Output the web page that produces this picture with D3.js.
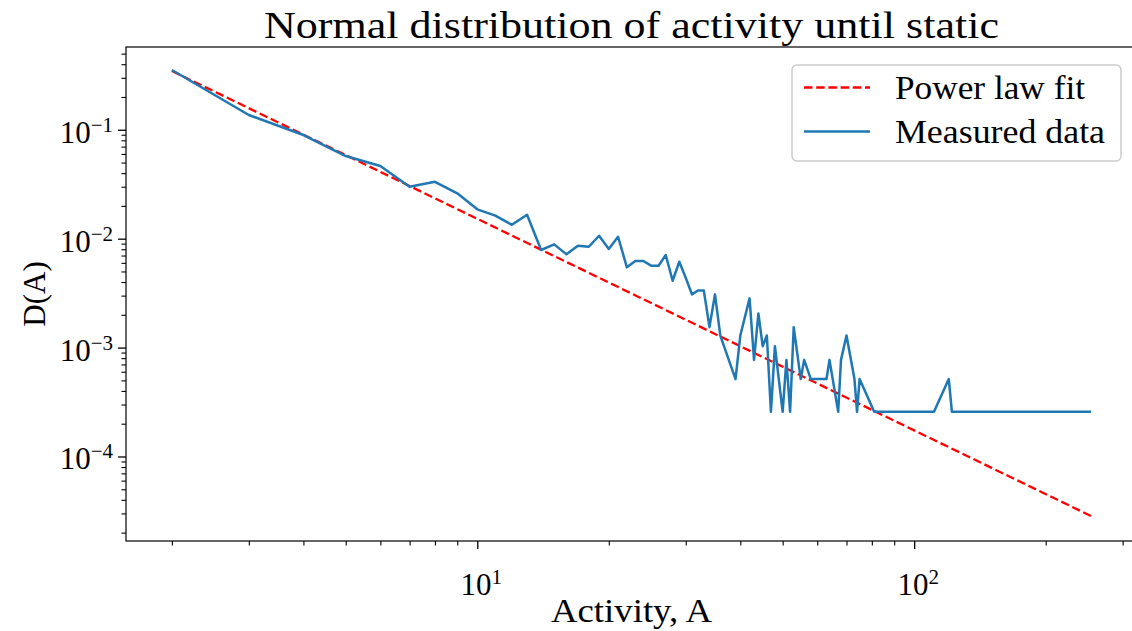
<!DOCTYPE html>
<html>
<head>
<meta charset="utf-8">
<script src="https://cdn.jsdelivr.net/npm/d3@7/dist/d3.min.js"></script>
<style>
  body { margin: 0; background: #fff; }
  svg { display: block; font-family: "Liberation Serif", "DejaVu Serif", serif; }
</style>
</head>
<body>
<svg id="chart" width="1132" height="631"></svg>
<script>
// measured distribution, activity A against D(A) (zero counts are simply not there)
var activity = [2, 3, 4, 5, 6, 7, 8, 9, 10, 11, 12, 13, 14, 15, 16, 17, 18, 19, 20, 21,
  22, 23, 24, 25, 26, 27, 28, 29, 30, 31, 32, 33, 34, 35, 36, 39, 40, 42, 43, 44,
  45, 46, 47, 48, 50, 51, 52, 53, 55, 56, 58, 63, 64, 67, 68, 70, 73, 74, 75, 81,
  111, 120, 122, 254];
var density = [0.354, 0.1367, 0.0895, 0.0574, 0.0465, 0.0300, 0.0333, 0.0261, 0.0186, 0.0163,
  0.0134, 0.0166, 0.00787, 0.00887, 0.00718, 0.00861, 0.00843, 0.01064, 0.00803, 0.01042,
  0.00546, 0.00624, 0.00624, 0.00565, 0.00565, 0.00708, 0.00411, 0.00614, 0.00438, 0.00308,
  0.00334, 0.00334, 0.00154, 0.00308, 0.00129, 0.000514, 0.00129, 0.00283, 0.000771, 0.00206,
  0.00103, 0.00129, 0.000257, 0.00103, 0.000257, 0.000771, 0.000257, 0.00154, 0.000514, 0.000771,
  0.000514, 0.000514, 0.000771, 0.000257, 0.000771, 0.00129, 0.000514, 0.000257, 0.000514, 0.000257,
  0.000257, 0.000514, 0.000257, 0.000257];

// power law fit, straight in log-log so the two ends are enough
var fitActivity = [2, 254];
var fitDensity = [0.347, 2.84e-5];

var xTickExps = [1, 2];
var yTickExps = [-1, -2, -3, -4];
var legendLabels = ["Power law fit", "Measured data"];
var titleText = "Normal distribution of activity until static";

var plotLeft = 126, plotRight = 1137, plotTop = 47, plotBottom = 541;

var svg = d3.select("#chart");

var x = d3.scaleLog().domain([Math.pow(10, 0.196), Math.pow(10, 2.510)]).range([plotLeft, plotRight]);
var y = d3.scaleLog().domain([Math.pow(10, -4.776), Math.pow(10, -0.240)]).range([plotBottom, plotTop]);

// minor ticks 2..9 of each decade inside the domain
function minorTicks(scale) {
  var d = scale.domain(), out = [];
  for (var e = Math.floor(Math.log10(d[0])); e <= Math.ceil(Math.log10(d[1])); e++) {
    for (var k = 2; k <= 9; k++) {
      var v = k * Math.pow(10, e);
      if (v >= d[0] && v <= d[1]) out.push(v);
    }
  }
  return out;
}

function styleTicks(w) {
  return function(g) {
    g.select(".domain").remove();
    g.selectAll("line").attr("stroke", "#000").attr("stroke-width", w);
  };
}

// x axis ticks
svg.append("g")
  .attr("transform", "translate(0," + plotBottom + ")")
  .call(d3.axisBottom(x).tickValues(minorTicks(x)).tickSize(4.5).tickFormat(""))
  .call(styleTicks(1.1));
svg.append("g")
  .attr("transform", "translate(0," + plotBottom + ")")
  .call(d3.axisBottom(x).tickValues(xTickExps.map(function(e) { return Math.pow(10, e); })).tickSize(8).tickFormat(""))
  .call(styleTicks(1.3));

// y axis ticks
svg.append("g")
  .attr("transform", "translate(" + plotLeft + ",0)")
  .call(d3.axisLeft(y).tickValues(minorTicks(y)).tickSize(4.5).tickFormat(""))
  .call(styleTicks(1.1));
svg.append("g")
  .attr("transform", "translate(" + plotLeft + ",0)")
  .call(d3.axisLeft(y).tickValues(yTickExps.map(function(e) { return Math.pow(10, e); })).tickSize(8).tickFormat(""))
  .call(styleTicks(1.3));

// tick labels as 10 with a raised exponent
function powerLabel(sel, e) {
  sel.append("tspan").text("10");
  sel.append("tspan").attr("font-size", 21).attr("dy", -11).text(String(e).replace("-", "\u2212"));
}
xTickExps.forEach(function(e) {
  var t = svg.append("text")
    .attr("x", x(Math.pow(10, e)) + 4)
    .attr("y", 595)
    .attr("font-size", 31)
    .attr("text-anchor", "middle");
  powerLabel(t, e);
});
yTickExps.forEach(function(e) {
  var t = svg.append("text")
    .attr("x", 113)
    .attr("y", y(Math.pow(10, e)) + 13)
    .attr("font-size", 31)
    .attr("text-anchor", "end");
  powerLabel(t, e);
});

// lines
svg.append("clipPath").attr("id", "plotclip")
  .append("rect").attr("x", plotLeft).attr("y", plotTop)
  .attr("width", plotRight - plotLeft).attr("height", plotBottom - plotTop);

var line = d3.line().x(function(d) { return x(d[0]); }).y(function(d) { return y(d[1]); });

svg.append("path")
  .datum(d3.zip(fitActivity, fitDensity))
  .attr("clip-path", "url(#plotclip)")
  .attr("fill", "none")
  .attr("stroke", "#ff0000")
  .attr("stroke-width", 2.3)
  .attr("stroke-dasharray", "8.5,3.7")
  .attr("d", line);

svg.append("path")
  .datum(d3.zip(activity, density))
  .attr("clip-path", "url(#plotclip)")
  .attr("fill", "none")
  .attr("stroke", "#1f77b4")
  .attr("stroke-width", 2.5)
  .attr("stroke-linejoin", "round")
  .attr("d", line);

// frame
svg.append("rect")
  .attr("x", plotLeft).attr("y", plotTop)
  .attr("width", plotRight - plotLeft).attr("height", plotBottom - plotTop)
  .attr("fill", "none").attr("stroke", "#000").attr("stroke-width", 1.2);

// legend
var lg = svg.append("g");
lg.append("rect")
  .attr("x", 792).attr("y", 65).attr("width", 329).attr("height", 96).attr("rx", 5)
  .attr("fill", "#fff").attr("fill-opacity", 0.8)
  .attr("stroke", "#cccccc").attr("stroke-width", 1.5);
lg.append("line").attr("x1", 804).attr("x2", 870).attr("y1", 87.5).attr("y2", 87.5)
  .attr("stroke", "#ff0000").attr("stroke-width", 2.3).attr("stroke-dasharray", "8.5,3.7");
lg.append("line").attr("x1", 804).attr("x2", 870).attr("y1", 131.5).attr("y2", 131.5)
  .attr("stroke", "#1f77b4").attr("stroke-width", 2.5);
var legendWidths = [190, 210];
legendLabels.forEach(function(s, i) {
  lg.append("text")
    .attr("x", 895).attr("y", 99 + i * 44)
    .attr("font-size", 33)
    .attr("textLength", legendWidths[i]).attr("lengthAdjust", "spacingAndGlyphs")
    .text(s);
});

// title and axis labels
svg.append("text")
  .attr("x", (plotLeft + plotRight) / 2).attr("y", 38)
  .attr("text-anchor", "middle").attr("font-size", 38)
  .attr("textLength", 735).attr("lengthAdjust", "spacingAndGlyphs")
  .text(titleText);
svg.append("text")
  .attr("x", (plotLeft + plotRight) / 2).attr("y", 622)
  .attr("text-anchor", "middle").attr("font-size", 33)
  .attr("textLength", 161).attr("lengthAdjust", "spacingAndGlyphs")
  .text("Activity, A");
svg.append("text")
  .attr("transform", "translate(45," + (plotTop + plotBottom) / 2 + ") rotate(-90)")
  .attr("text-anchor", "middle").attr("font-size", 31)
  .text("D(A)");
</script>
</body>
</html>
